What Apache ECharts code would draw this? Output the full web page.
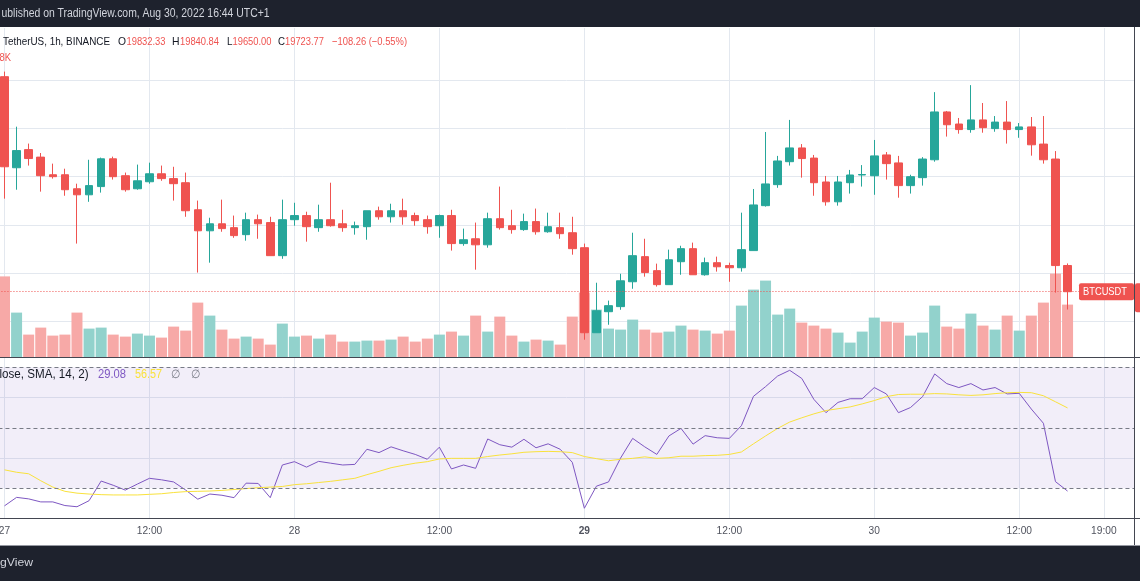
<!DOCTYPE html>
<html><head><meta charset="utf-8">
<script src="https://cdn.jsdelivr.net/npm/echarts@6/dist/echarts.min.js"></script>
<style>html,body{margin:0;padding:0;background:#fff;overflow:hidden}#c{width:1140px;height:581px}</style>
</head><body><div id="c"></div>
<script>
// ---- data (1h candles, Aug 27 00:00 .. Aug 30 16:00) ----
const opens  = [20614,20237,20312,20281,20208,20208,20150,20125,20159,20274,20204,20150,20179,20212,20192,20175,20063,19976,20005,19989,19960,20022,20010,19873,20022,20039,19989,20022,20005,19989,19993,20059,20034,20059,20039,20022,19997,20039,19923,19943,19918,20026,19997,19981,20014,19972,19989,19968,19906,19554,19641,19662,19765,19869,19811,19753,19848,19902,19794,19844,19832,19823,19894,20080,20167,20262,20319,20277,20178,20096,20175,20207,20204,20290,20257,20163,20196,20270,20468,20418,20395,20435,20399,20426,20395,20406,20335,20273,19832.33];
const closes = [20241,20308,20275,20204,20200,20146,20125,20163,20274,20200,20146,20183,20212,20192,20171,20059,19976,20005,19985,19956,20022,20005,19873,20022,20039,19993,20022,19997,19989,19997,20059,20034,20059,20034,20018,19993,20039,19923,19939,19918,20026,19989,19981,20014,19972,19993,19964,19902,19554,19645,19666,19769,19873,19803,19753,19856,19902,19794,19844,19827,19823,19898,20083,20170,20265,20319,20275,20175,20096,20178,20207,20209,20286,20254,20163,20200,20273,20468,20415,20395,20435,20403,20426,20395,20406,20332,20270,19832.03,19723.77];
const lows   = [20109,20146,20246,20138,20192,20121,19923,20096,20134,20188,20138,20146,20171,20183,20101,20034,19803,19844,19972,19947,19935,19943,19873,19860,19997,19931,19972,19993,19972,19960,19939,20022,20010,20001,19997,19964,19947,19894,19914,19815,19906,19981,19964,19976,19960,19968,19943,19877,19525,19554,19587,19649,19736,19786,19745,19753,19794,19794,19790,19807,19765,19807,19894,20076,20154,20246,20196,20121,20080,20080,20130,20159,20125,20188,20113,20130,20163,20262,20366,20378,20382,20382,20386,20337,20361,20287,20254,19720,19650.00];
const highs  = [20635,20407,20337,20298,20254,20233,20171,20270,20279,20283,20217,20250,20258,20246,20241,20217,20101,20030,20105,20039,20051,20043,20034,20105,20092,20055,20084,20175,20063,20014,20059,20076,20088,20109,20051,20039,20043,20063,19985,20010,20051,20159,20063,20047,20068,20051,20051,20034,19923,19761,19687,19798,19968,19943,19840,19898,19914,19927,19865,19869,19844,20051,20149,20385,20286,20435,20335,20290,20203,20203,20228,20248,20352,20302,20286,20208,20281,20550,20472,20443,20579,20505,20451,20513,20422,20447,20451,20306,19840.84];
const volumes = [4.03,2.22,1.12,1.47,1.07,1.12,2.22,1.42,1.47,1.12,1.02,1.17,1.07,0.97,1.52,1.32,2.72,2.07,1.37,0.92,1.02,0.92,0.62,1.67,1.02,1.07,0.92,1.12,0.77,0.77,0.82,0.82,0.87,1.02,0.77,0.92,1.12,1.27,1.07,2.07,1.27,2.02,1.07,0.77,0.87,0.82,0.62,2.02,3.22,2.37,1.42,1.37,1.87,1.37,1.22,1.27,1.57,1.37,1.32,1.17,1.32,2.57,3.37,3.82,2.12,2.42,1.72,1.57,1.42,1.22,0.72,1.27,1.97,1.77,1.72,1.07,1.22,2.57,1.52,1.42,2.17,1.57,1.37,2.07,1.32,2.07,2.72,4.17,2.62];
const rsi    = [24.2,27.0,26.5,25.5,25.5,24.3,23.9,25.9,32.4,31.0,29.4,31.4,33.3,32.8,32.1,29.4,26.4,28.1,27.7,26.9,31.7,31.6,26.9,37.7,38.8,37.0,38.9,38.3,37.7,37.9,42.9,41.8,43.7,42.4,41.2,39.6,43.6,36.4,37.7,36.6,46.3,44.4,43.6,46.2,43.4,44.7,42.9,38.6,23.4,30.7,32.1,40.0,46.5,43.7,41.2,47.3,49.8,44.6,47.4,46.7,46.5,50.7,60.4,63.6,67.1,69.0,66.3,59.4,55.0,58.4,59.6,59.6,63.3,61.2,55.0,56.7,60.3,67.8,64.6,63.3,64.6,62.5,63.3,61.2,61.4,56.2,51.5,32.2,29.08];
const rsiSma = [36.1,35.3,34.8,32.5,30.4,29.0,28.4,28.1,27.9,27.8,27.8,27.8,28.0,28.2,28.6,28.9,29.0,29.1,29.3,29.6,29.9,30.2,30.4,30.6,31.2,31.5,31.9,32.3,32.8,33.3,34.5,35.6,36.8,37.6,38.3,38.8,39.7,39.9,39.9,39.9,40.5,41.0,41.4,41.9,42.1,42.2,42.1,41.8,40.5,39.8,39.1,39.6,39.9,40.4,39.9,40.1,40.6,40.6,40.8,40.9,41.2,42.0,44.7,47.3,49.8,51.9,53.3,54.6,55.7,56.3,56.9,57.9,59.0,60.3,61.0,61.1,61.1,61.3,61.2,60.9,60.7,60.9,61.3,61.6,61.7,61.6,60.6,58.6,56.57];
const timeTickIdx    = [0, 12, 24, 36, 48, 60, 72, 84, 91];
const timeTickLabels = ['27', '12:00', '28', '12:00', '29', '12:00', '30', '12:00', '19:00'];
const boldTimeLabels = ['29'];
const priceTicks = [19600, 19800, 20000, 20200, 20400, 20600];
const rsiTicks   = [40, 60];
const rsiBands   = [30, 50, 70];
const symbolName = 'BTCUSDT';
const headerText = 'TetherUS, 1h, BINANCE';
const publishText = 'ublished on TradingView.com, Aug 30, 2022 16:44 UTC+1';
const rsiLegendText = 'lose, SMA, 14, 2)';
const volLegendText = '8K';
const footerText = 'gView';

// ---- styles ----
const UP = '#26a69a', DN = '#ef5350', VOL_UP = '#92d2cc', VOL_DN = '#f7a9a7';
const RSI_C = '#7e57c2', MA_C = '#f9e23c';
const GRID = '#e3e8ef', DARK = '#1e222d', AXIS = '#434651';
const FONT = "'Liberation Sans',Arial,sans-serif";

// measure text so each label can be squeezed to the width seen in the picture
const mctx = document.createElement('canvas').getContext('2d');
function textW(text, size) { mctx.font = size + 'px ' + FONT; return mctx.measureText(text).width || 1; }
function fitSize(text, target, base) { return Math.max(8, Math.min(15, base * target / textW(text, base))); }
const szTime = fitSize('12:00', 25.5, 12);

const idx = closes.map((_, i) => i);
const candleData = idx.map(i => [i, opens[i], closes[i], lows[i], highs[i]]);
const volData = idx.map(i => ({ value: [i, volumes[i]], itemStyle: { color: closes[i] >= opens[i] ? VOL_UP : VOL_DN } }));
const rsiData = idx.map(i => [i, rsi[i]]);
const smaData = idx.map(i => [i, rsiSma[i]]);
const last = closes.length - 1;

function xAxisCfg(grid, showLabels) {
  return {
    type: 'value', gridIndex: grid, min: -0.5, max: 93.5,
    axisLine: { show: false },
    axisTick: { show: false, customValues: timeTickIdx },
    splitLine: { show: true, lineStyle: { color: GRID, width: 1 } },
    axisLabel: {
      show: showLabels, customValues: timeTickIdx, margin: 8,
      color: '#50535e', fontSize: szTime, fontFamily: FONT,
      formatter: v => {
        const k = timeTickIdx.indexOf(Math.round(v));
        const t = k >= 0 ? timeTickLabels[k] : '';
        return boldTimeLabels.includes(t) ? '{b|' + t + '}' : t;
      },
      rich: { b: { fontWeight: 'bold', fontSize: szTime, fontFamily: FONT, color: '#50535e' } }
    }
  };
}

const option = {
  animation: false,
  backgroundColor: '#ffffff',
  grid: [
    { left: -1.54, right: 6, top: 28, height: 329, outerBoundsMode: 'none', containLabel: false },
    { left: -1.54, right: 6, top: 358, height: 160, outerBoundsMode: 'none', containLabel: false }
  ],
  xAxis: [xAxisCfg(0, false), xAxisCfg(1, true)],
  yAxis: [
    { type: 'value', gridIndex: 0, min: 19453.5, max: 20815.5, position: 'right',
      axisLine: { show: false }, axisLabel: { show: false },
      axisTick: { show: false, customValues: priceTicks },
      splitLine: { show: true, lineStyle: { color: GRID } } },
    { type: 'value', gridIndex: 0, min: 0, max: 16.45, show: false, splitLine: { show: false } },
    { type: 'value', gridIndex: 1, min: 20.18, max: 73.07, position: 'right',
      axisLine: { show: false }, axisLabel: { show: false },
      axisTick: { show: false, customValues: rsiTicks },
      splitLine: { show: true, lineStyle: { color: GRID } } }
  ],
  series: [
    { type: 'bar', name: 'Volume', xAxisIndex: 0, yAxisIndex: 1, data: volData, barWidth: 11, z: 2, silent: true },
    { type: 'candlestick', name: symbolName, xAxisIndex: 0, yAxisIndex: 0, data: candleData,
      encode: { x: 0, y: [1, 2, 3, 4] }, barWidth: 8, z: 3, silent: true,
      itemStyle: { color: UP, color0: DN, borderColor: UP, borderColor0: DN, borderWidth: 1 },
      markLine: { silent: true, symbol: ['none', 'none'], label: { show: false }, z: 5,
        lineStyle: { color: DN, type: [1, 2], width: 1 },
        data: [{ yAxis: closes[last] }] } },
    { type: 'line', name: 'RSI', xAxisIndex: 1, yAxisIndex: 2, data: rsiData, showSymbol: false, silent: true,
      lineStyle: { color: RSI_C, width: 1 }, itemStyle: { color: RSI_C }, z: 3,
      markArea: { silent: true, itemStyle: { color: 'rgba(126,87,194,0.1)' },
        data: [[{ yAxis: rsiBands[0] }, { yAxis: rsiBands[2] }]] },
      markLine: { silent: true, symbol: ['none', 'none'], label: { show: false },
        lineStyle: { color: '#787b86', type: [4, 3], width: 1 },
        data: rsiBands.map(b => ({ yAxis: b })) } },
    { type: 'line', name: 'RSI-based MA', xAxisIndex: 1, yAxisIndex: 2, data: smaData, showSymbol: false, silent: true,
      lineStyle: { color: MA_C, width: 1 }, itemStyle: { color: MA_C }, z: 4 }
  ]
};

const chart = echarts.init(document.getElementById('c'), null, { renderer: 'canvas', width: 1140, height: 581 });
chart.setOption(option);

const yLast = chart.convertToPixel({ yAxisIndex: 0 }, closes[last]);
const xRight = chart.convertToPixel({ xAxisIndex: 0 }, 93.5);
const fmt = v => v.toFixed(2);
const chg = closes[last] - closes[last - 1];
const sgn = chg < 0 ? '\u2212' : '+';
const chgStr = sgn + Math.abs(chg).toFixed(2) + ' (' + sgn + Math.abs(chg / closes[last - 1] * 100).toFixed(2) + '%)';

// text squeezed horizontally (scaleX) to the reference width, keeping glyph height
function txt(x, y, text, fill, size, targetW, align) {
  const a = align || 'left';
  const s = targetW ? Math.min(1.1, targetW / textW(text, size)) : 1;
  return { type: 'text', x: x, y: y, scaleX: s, scaleY: 1, z: 100, silent: true,
    style: { text: text, fill: fill, font: size + 'px ' + FONT, textVerticalAlign: 'middle', verticalAlign: 'middle', textAlign: a, align: a } };
}
const legendParts = [
  [118, 'O', '#131722', 8], [126.5, fmt(opens[last]), DN, 39],
  [172, 'H', '#131722', 7.5], [180, fmt(highs[last]), DN, 39],
  [227, 'L', '#131722', 5.5], [232.5, fmt(lows[last]), DN, 39],
  [278, 'C', '#131722', 7], [285, fmt(closes[last]), DN, 39],
  [332, chgStr, DN, 75]
];
const graphics = [
  { type: 'rect', z: 90, silent: true, shape: { x: 0, y: 0, width: 1140, height: 27 }, style: { fill: DARK } },
  { type: 'rect', z: 90, silent: true, shape: { x: 0, y: 546, width: 1140, height: 35 }, style: { fill: DARK } },
  { type: 'line', z: 90, silent: true, shape: { x1: 0, y1: 545.5, x2: 1140, y2: 545.5 }, style: { stroke: '#9598a1', lineWidth: 1 } },
  { type: 'line', z: 90, silent: true, shape: { x1: 0, y1: 357.5, x2: 1140, y2: 357.5 }, style: { stroke: AXIS, lineWidth: 1 } },
  { type: 'line', z: 90, silent: true, shape: { x1: 0, y1: 518.5, x2: 1140, y2: 518.5 }, style: { stroke: AXIS, lineWidth: 1 } },
  { type: 'line', z: 90, silent: true, shape: { x1: Math.round(xRight) + 0.5, y1: 27, x2: Math.round(xRight) + 0.5, y2: 545 }, style: { stroke: AXIS, lineWidth: 1 } },
  txt(1.5, 14, publishText, '#d1d4dc', 12, 268),
  txt(0, 563, footerText, '#d1d4dc', 11.5, 33),
  txt(-0.5, 58, volLegendText, DN, 11.5, 11.5),
  txt(-0.5, 375, rsiLegendText, '#131722', 12, 89),
  txt(98, 375, fmt(rsi[last]), RSI_C, 12, 28),
  txt(135, 375, fmt(rsiSma[last]), MA_C, 12, 27),
  txt(171, 375, '\u2205', '#787b86', 12, 9),
  txt(191, 375, '\u2205', '#787b86', 12, 9),
  txt(3, 42, headerText, '#131722', 11.5, 107),
  { type: 'rect', z: 95, silent: true, shape: { x: xRight - 55, y: yLast - 8.5, width: 55, height: 17, r: 2 }, style: { fill: DN } },
  txt(xRight - 51, yLast, symbolName, '#ffffff', 11.5, 44),
  { type: 'rect', z: 95, silent: true, shape: { x: xRight + 1, y: yLast - 8.5, width: 10, height: 29, r: 2 }, style: { fill: DN } }
].concat(legendParts.map(p => txt(p[0], 42, p[1], p[2], 11.5, p[3])));
chart.setOption({ graphic: graphics });
</script>
</body></html>
